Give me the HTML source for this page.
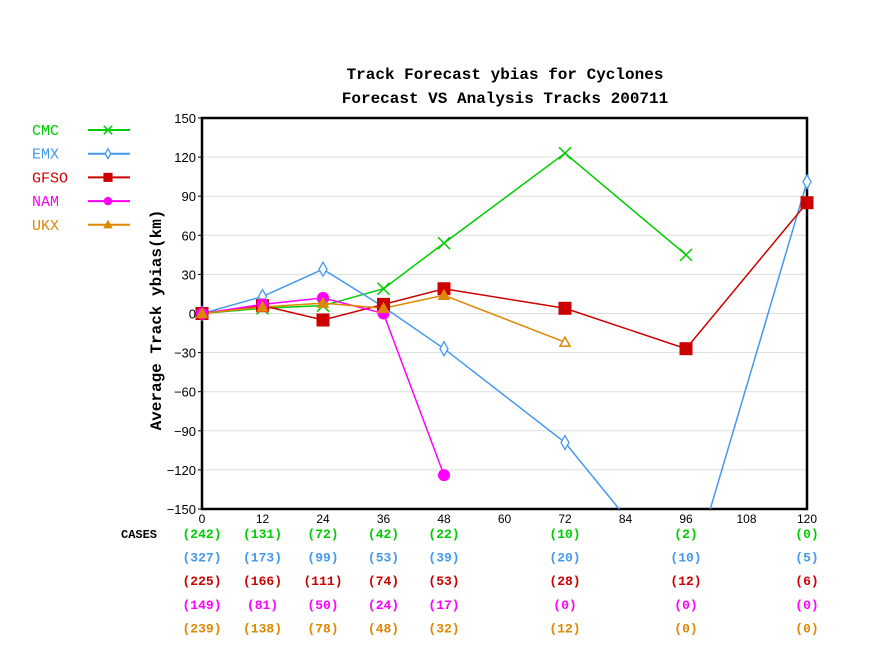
<!DOCTYPE html>
<html><head><meta charset="utf-8"><style>
body{margin:0;background:#fff}
svg{display:block;font-family:"Liberation Mono","DejaVu Sans Mono",monospace}
</style></head><body>
<svg width="888" height="666" viewBox="0 0 888 666">
<text x="505" y="79" text-anchor="middle" font-size="16" font-weight="bold">Track Forecast ybias for Cyclones</text>
<text x="505" y="103" text-anchor="middle" font-size="16" font-weight="bold">Forecast VS Analysis Tracks 200711</text>
<g id="grid"></g>
<g id="axes"></g>
<defs><clipPath id="clip"><rect x="202" y="118" width="605" height="391"/></clipPath></defs>
<g id="series" clip-path="url(#clip)"></g>
<g id="markers"></g>
<g id="legend"></g>
<g id="cases"></g>
<text transform="translate(161,320) rotate(-90)" text-anchor="middle" font-size="16" font-weight="bold">Average Track ybias(km)</text>
</svg>
<script>
const hours=[0,12,24,36,48,72,96,120];
const xTicks=[0,12,24,36,48,60,72,84,96,108,120];
const yTicks=[-150,-120,-90,-60,-30,0,30,60,90,120,150];
const names=["CMC","EMX","GFSO","NAM","UKX"];
const colors=["#00cc00","#4499ee","#cc0000","#ff00ff","#dd8800"];
const cmc=[0,4,6,19,54,123,45,null];
const emx=[0,13,34,5,-27,-99,-213,101];
const gfso=[0,6,-5,7,19,4,-27,85];
const nam=[0,7,12,0,-124,null,null,null];
const ukx=[0,5,8,4,14,-22,null,null];
const casesCmc=["242","131","72","42","22","10","2","0"];
const casesEmx=["327","173","99","53","39","20","10","5"];
const casesGfso=["225","166","111","74","53","28","12","6"];
const casesNam=["149","81","50","24","17","0","0","0"];
const casesUkx=["239","138","78","48","32","12","0","0"];
const series=[cmc,emx,gfso,nam,ukx];
const cases=[casesCmc,casesEmx,casesGfso,casesNam,casesUkx];
const NS="http://www.w3.org/2000/svg";
const X=h=>202+h*605/120;
const Y=v=>313.5-v*391/300;
function mk(t,a,p){const e=document.createElementNS(NS,t);for(const k in a)e.setAttribute(k,a[k]);p.appendChild(e);return e;}
const grid=document.getElementById('grid'),axes=document.getElementById('axes');
yTicks.forEach(v=>{
 if(v>-150&&v<150){const l=mk('line',{x1:202,x2:807,y1:Y(v),y2:Y(v),stroke:'#dddddd','stroke-width':1},grid);
 
 }
 const t=mk('text',{x:196,y:Y(v)+5,'text-anchor':'end','font-size':13,'font-family':'Liberation Sans,sans-serif'},axes);t.textContent=String(v).replace('-','−');
 
 
 mk('line',{x1:198,x2:202,y1:Y(v),y2:Y(v),stroke:'#000'},axes);
});
xTicks.forEach(h=>{
 const t=mk('text',{x:X(h),y:523,'text-anchor':'middle','font-size':12,'font-family':'Liberation Sans,sans-serif'},axes);t.textContent=h;
 
 
});
const fr=mk('rect',{x:202,y:118,width:605,height:391,fill:'none',stroke:'#000','stroke-width':2.5},axes);


const sg=document.getElementById('series'),mg=document.getElementById('markers');
function marker(i,x,y,p,hollow,s){
 const c=colors[i];let e;s=s||1;
 if(i==0){e=mk('path',{d:`M${x-6*s},${y-6*s}L${x+6*s},${y+6*s}M${x-6*s},${y+6*s}L${x+6*s},${y-6*s}`,stroke:c,'stroke-width':1.5,fill:'none'},p);}
 else if(i==1){e=mk('path',{d:`M${x},${y-7*s}L${x+4*s},${y}L${x},${y+7*s}L${x-4*s},${y}Z`,stroke:c,'stroke-width':1.3,fill:'#fff'},p);}
 else if(i==2){e=mk('rect',{x:x-6.5*s,y:y-6.5*s,width:13*s,height:13*s,fill:c},p);}
 else if(i==3){e=mk('circle',{cx:x,cy:y,r:6*s,fill:c},p);}
 else {e=mk('path',{d:`M${x},${y-5*s}L${x+5*s},${y+4*s}L${x-5*s},${y+4*s}Z`,stroke:c,'stroke-width':1.5,fill:hollow?'#fff':c},p);}
 return e;
}
series.forEach((s,i)=>{
 let d='';s.forEach((v,k)=>{if(v!==null)d+=(d?'L':'M')+X(hours[k])+','+Y(v);});
 const p=mk('path',{d,fill:'none',stroke:colors[i],'stroke-width':1.5},sg);
 
 
 const last=s.reduce((a,v,k)=>v!==null?k:a,0);
 s.forEach((v,k)=>{if(v===null||v<-150||v>150)return;
  const m=marker(i,X(hours[k]),Y(v),mg,i==4&&k==last,1);
  
  });
});
const lg=document.getElementById('legend');
names.forEach((n,i)=>{
 const y=130+i*23.7;
 const t=mk('text',{x:32,y:y+5,'font-size':15,fill:colors[i]},lg);t.textContent=n;
 
 
 mk('line',{x1:88,x2:130,y1:y,y2:y,stroke:colors[i],'stroke-width':2},lg);
 const m=marker(i,108,y,lg,false,0.7);
 
 
});
const cg=document.getElementById('cases');
const ct=mk('text',{x:121,y:538,'font-size':12,'font-weight':'bold'},cg);ct.textContent='CASES';


cases.forEach((row,i)=>{
 row.forEach((c,k)=>{
  const t=mk('text',{x:X(hours[k]),y:538+i*23.6,'text-anchor':'middle','font-size':13,'font-weight':'bold',fill:colors[i]},cg);
  t.textContent='('+c+')';
  
  
 });
});
</script>
</body></html>
